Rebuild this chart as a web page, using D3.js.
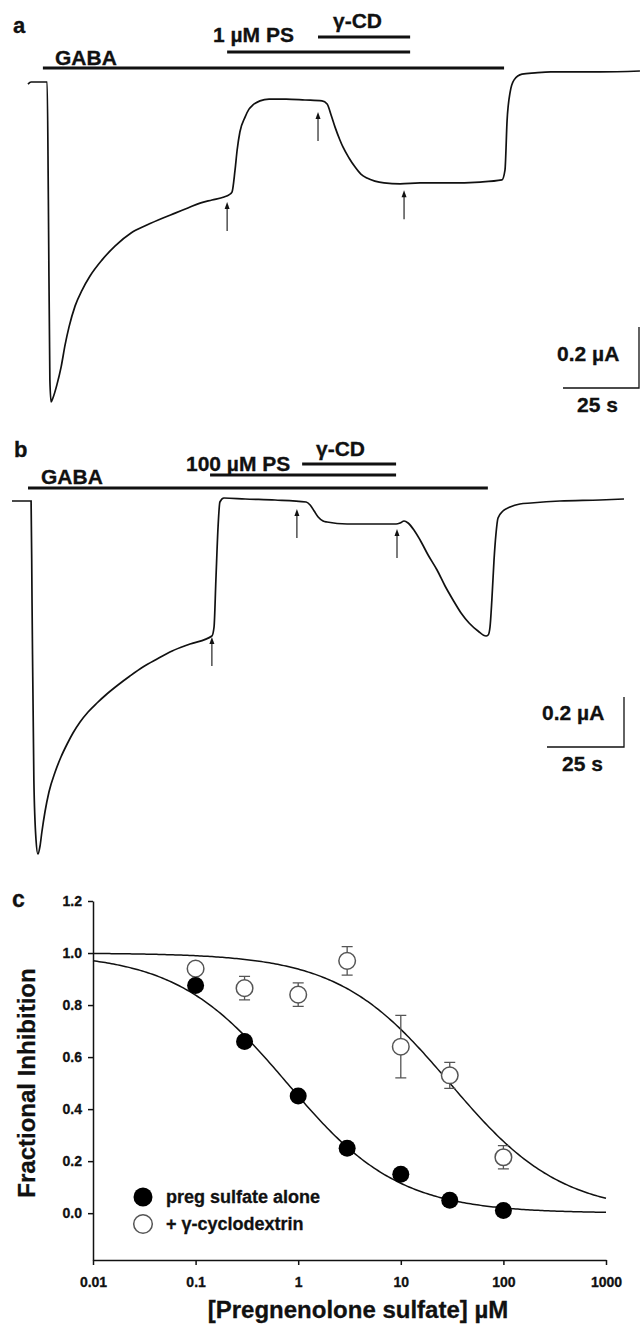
<!DOCTYPE html>
<html>
<head>
<meta charset="utf-8">
<script src="https://cdn.jsdelivr.net/npm/d3@7"></script>
<style>
  body { margin: 0; background: #fff; }
  text { font-family: "Liberation Sans", Arial, sans-serif; font-weight: bold; fill: #111; stroke: #111; stroke-width: 0.3px; }
</style>
</head>
<body>
<svg id="fig" width="640" height="1326"></svg>
<script>
// ---- panel a: 1 uM PS, current trace [time s, current uA]
const traceA = [
  [0,-0.007],[1,0],[6.3,0],[6.7,-0.387],[7.2,-0.977],[7.6,-1.049],[8.2,-1.036],[9.5,-0.993],
  [10.9,-0.934],[12.2,-0.862],[13.5,-0.803],[15.5,-0.734],[17.8,-0.682],[20.4,-0.636],[24.3,-0.584],
  [28.6,-0.538],[33.9,-0.495],[39.1,-0.469],[44.4,-0.446],[48.4,-0.430],[52.6,-0.413],[56.6,-0.397],
  [60.5,-0.387],[64.5,-0.377],[66.1,-0.370],[67.1,-0.361],[68.1,-0.289],[68.8,-0.223],[69.7,-0.164],
  [71.4,-0.115],[72.7,-0.089],[74.0,-0.075],[76.3,-0.062],[79.3,-0.056],[84.9,-0.056],[91.1,-0.059],
  [96.7,-0.062],[98.4,-0.072],[99.7,-0.108],[101.0,-0.148],[102.6,-0.190],[103.6,-0.213],[105.6,-0.249],
  [107.6,-0.279],[109.5,-0.302],[111.5,-0.315],[114.1,-0.325],[117.1,-0.331],[122.4,-0.334],[129.0,-0.331],
  [138.5,-0.331],[148.7,-0.328],[155.9,-0.321],[156.9,-0.289],[157.6,-0.125],[158.6,-0.033],[159.9,0.007],
  [162.5,0.026],[166.8,0.030],[172.0,0.033],[188.2,0.033],[201.3,0.036]
];
const barsA = [['GABA', 4.9, 156.6], ['1 µM PS', 65.5, 125.7], ['γ-CD', 95.4, 125.7]];
const arrowsA = [[65.5, -0.387], [95.4, -0.092], [123.7, -0.348]];

// ---- panel b: 100 uM PS
const traceB = [
  [0,0],[6.2,0],[6.5,-0.396],[7.1,-1.116],[7.8,-1.356],[8.4,-1.412],[9.1,-1.380],[9.7,-1.324],
  [10.7,-1.244],[12.0,-1.164],[14.0,-1.084],[15.9,-1.024],[17.9,-0.972],[19.8,-0.928],[22.1,-0.884],
  [24.7,-0.844],[27.6,-0.808],[30.8,-0.772],[34.4,-0.736],[38.3,-0.700],[42.5,-0.664],[47.1,-0.632],
  [52.0,-0.600],[57.8,-0.572],[64.9,-0.540],[65.6,-0.504],[66.2,-0.316],[66.9,-0.104],[67.5,-0.004],
  [68.8,0.012],[75.7,0.008],[85.4,0.004],[95.5,-0.004],[96.8,-0.016],[98.1,-0.040],[99.4,-0.064],
  [101.0,-0.080],[102.3,-0.084],[108.8,-0.092],[116.2,-0.092],[124.7,-0.092],[126.0,-0.088],[127.3,-0.080],
  [128.6,-0.088],[130.5,-0.116],[132.5,-0.156],[135.1,-0.216],[138.0,-0.276],[140.6,-0.340],[143.2,-0.396],
  [145.8,-0.448],[148.4,-0.488],[151.3,-0.520],[153.9,-0.540],[154.6,-0.536],[155.2,-0.504],[155.8,-0.396],
  [156.5,-0.236],[157.1,-0.136],[157.8,-0.068],[159.4,-0.040],[161.7,-0.024],[164.9,-0.012],[168.5,-0.008],
  [177.9,0],[190.9,0.004],[198.7,0.008]
];
const barsB = [['GABA', 5.2, 154.5], ['100 µM PS', 64.3, 124.7], ['γ-CD', 94.2, 124.7]];
const arrowsB = [[64.9, -0.536], [92.5, -0.024], [125.0, -0.104]];

// ---- panel c: concentration-response
const conc = [0.1, 0.3, 1, 3, 10, 30, 100];
const psAlone = [0.875, 0.66, 0.45, 0.25, 0.15, 0.05, 0.01];
const psCD = [0.94, 0.865, 0.84, 0.97, 0.64, 0.53, 0.215];
const psCDerr = [0.02, 0.045, 0.045, 0.055, 0.12, 0.05, 0.045];
const fitIC50 = [0.78, 30];
const fitHill = [0.8, 0.8];
const xTicks = [0.01, 0.1, 1, 10, 100, 1000];
const yTicks = [0, 0.2, 0.4, 0.6, 0.8, 1.0, 1.2];
const legendLabels = ['preg sulfate alone', '+ γ-cyclodextrin'];

const svg = d3.select('#fig');
svg.append('rect').attr('width', 640).attr('height', 1326).attr('fill', '#fff');

function tracePanel(p) {
  const g = svg.append('g');
  const x = d3.scaleLinear().domain([0, 200]).range([p.left, p.left + 200 * p.pxs]);
  const y = d3.scaleLinear().domain([-1.5, 0.2]).range([p.base + 1.5 * p.pxa, p.base - 0.2 * p.pxa]);

  g.append('text').attr('x', p.letter[0]).attr('y', p.letter[1])
    .style('font-size', '22px').text(p.name);

  // solution bars + labels
  p.bars.forEach((b, i) => {
    g.append('line')
      .attr('x1', x(b[1])).attr('x2', x(b[2]))
      .attr('y1', p.barY[i]).attr('y2', p.barY[i])
      .attr('stroke', '#111').attr('stroke-width', 3);
    g.append('text').attr('x', p.labelPos[i][0]).attr('y', p.labelPos[i][1])
      .style('font-size', '21px').text(b[0]);
  });

  const line = d3.line().x(d => x(d[0])).y(d => y(d[1])).curve(d3.curveMonotoneX);
  g.append('path').attr('d', line(p.trace))
    .attr('fill', 'none').attr('stroke', '#111').attr('stroke-width', 1.7);

  // arrows
  p.arrows.forEach(a => {
    const ax = x(a[0]), ay = y(a[1]) + 2;
    g.append('line').attr('x1', ax).attr('x2', ax).attr('y1', ay + 4).attr('y2', ay + 29)
      .attr('stroke', '#111').attr('stroke-width', 1.1);
    g.append('path').attr('d', `M${ax},${ay} L${ax - 2.5},${ay + 7} L${ax + 2.5},${ay + 7} Z`)
      .attr('fill', '#111');
  });

  // scale bars: 0.2 uA and 25 s
  const cx = p.scale[0], cy = p.scale[1];
  const hLen = x(25) - x(0), vLen = y(0) - y(0.2);
  g.append('path').attr('d', `M${cx - hLen},${cy} L${cx},${cy} L${cx},${cy - vLen}`)
    .attr('fill', 'none').attr('stroke', '#111').attr('stroke-width', 1.3);
  g.append('text').attr('x', cx - 82).attr('y', cy - 27).style('font-size', '21px').text('0.2 µA');
  g.append('text').attr('x', cx - 62).attr('y', cy + 24).style('font-size', '21px').text('25 s');
}

tracePanel({
  name: 'a', letter: [13, 33], left: 28, pxs: 3.04, base: 82, pxa: 305,
  trace: traceA, bars: barsA, arrows: arrowsA,
  barY: [68, 52, 37], labelPos: [[55, 65], [213, 42], [333, 28]],
  scale: [639, 388]
});
tracePanel({
  name: 'b', letter: [14, 457], left: 12, pxs: 3.08, base: 501, pxa: 250,
  trace: traceB, bars: barsB, arrows: arrowsB,
  barY: [488, 475, 464], labelPos: [[41, 484], [186, 471], [316, 456]],
  scale: [624, 747]
});

// ---- panel c
const gc = svg.append('g');
const xC = d3.scaleLog().domain([0.01, 1000]).range([93, 606]);
const yC = d3.scaleLinear().domain([-0.18, 1.2]).range([1260, 901]);

gc.append('text').attr('x', 12).attr('y', 907).style('font-size', '23px').text('c');

const yAxis = gc.append('g').attr('transform', 'translate(93,0)')
  .call(d3.axisLeft(yC).tickValues(yTicks).tickFormat(d3.format('.1f')).tickSize(5).tickSizeOuter(0).tickPadding(6));
const xAxis = gc.append('g').attr('transform', 'translate(0,1260)')
  .call(d3.axisBottom(xC).tickValues(xTicks).tickFormat(d => String(d)).tickSize(5).tickSizeOuter(0).tickPadding(12));
[yAxis, xAxis].forEach(a => {
  a.attr('font-family', null).attr('font-size', null);
  a.selectAll('path, line').attr('stroke', '#111').attr('stroke-width', 1.5);
  a.selectAll('text').style('font-size', '14px').attr('fill', '#111');
});

gc.append('text').attr('transform', 'translate(35,1083) rotate(-90)')
  .attr('text-anchor', 'middle').style('font-size', '24px').text('Fractional Inhibition');
gc.append('text').attr('x', 358).attr('y', 1318)
  .attr('text-anchor', 'middle').style('font-size', '24px').text('[Pregnenolone sulfate] µM');

// fitted Hill curves
const fitX = d3.range(-2, 3.0001, 0.02).map(e => Math.pow(10, e));
const fitLine = d3.line().x(d => xC(d[0])).y(d => yC(d[1]));
fitIC50.forEach((ic, i) => {
  const pts = fitX.map(c => [c, 1 / (1 + Math.pow(c / ic, fitHill[i]))]);
  gc.append('path').attr('d', fitLine(pts))
    .attr('fill', 'none').attr('stroke', '#111').attr('stroke-width', 1.5);
});

// open circles with error bars
const openG = gc.append('g');
conc.forEach((c, i) => {
  const cx = xC(c), lo = yC(psCD[i] - psCDerr[i]), hi = yC(psCD[i] + psCDerr[i]);
  openG.append('path')
    .attr('d', `M${cx},${lo} L${cx},${hi} M${cx - 5.5},${lo} L${cx + 5.5},${lo} M${cx - 5.5},${hi} L${cx + 5.5},${hi}`)
    .attr('fill', 'none').attr('stroke', '#555').attr('stroke-width', 1.3);
});
openG.selectAll('circle').data(conc).enter().append('circle')
  .attr('cx', d => xC(d)).attr('cy', (d, i) => yC(psCD[i])).attr('r', 8.3)
  .attr('fill', '#fff').attr('stroke', '#555').attr('stroke-width', 1.5);

gc.append('g').selectAll('circle').data(conc).enter().append('circle')
  .attr('cx', d => xC(d)).attr('cy', (d, i) => yC(psAlone[i])).attr('r', 8.5)
  .attr('fill', '#000');

// legend
const leg = gc.append('g');
leg.append('circle').attr('cx', 143).attr('cy', 1197).attr('r', 9.5).attr('fill', '#000');
leg.append('circle').attr('cx', 143).attr('cy', 1224).attr('r', 9.3)
  .attr('fill', '#fff').attr('stroke', '#555').attr('stroke-width', 1.5);
legendLabels.forEach((t, i) => {
  leg.append('text').attr('x', 166).attr('y', 1203 + i * 27).style('font-size', '18px').text(t);
});
</script>
</body>
</html>
